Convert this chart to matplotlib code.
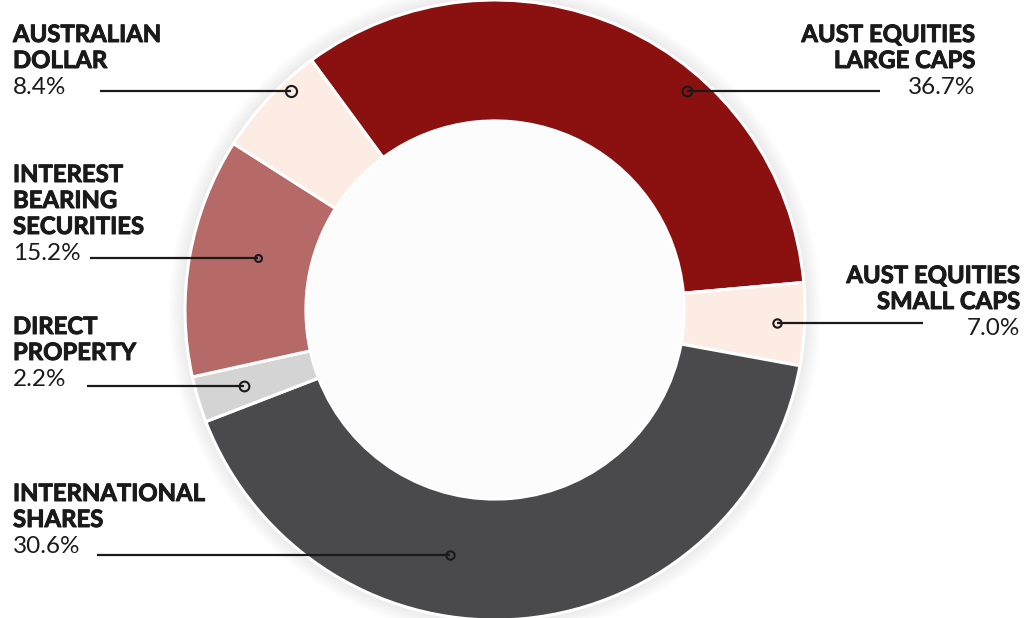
import matplotlib.pyplot as plt
import matplotlib.patheffects as pe
from matplotlib.patches import Circle

W, H = 1036, 618

# asset classes, clockwise from the top-left boundary
names = [['AUST EQUITIES', 'LARGE CAPS'],
         ['AUST EQUITIES', 'SMALL CAPS'],
         ['INTERNATIONAL', 'SHARES'],
         ['DIRECT', 'PROPERTY'],
         ['INTEREST', 'BEARING', 'SECURITIES'],
         ['AUSTRALIAN', 'DOLLAR']]
label_pct = [36.7, 7.0, 30.6, 2.2, 15.2, 8.4]
# arc sizes as drawn in the picture (they do not follow the printed numbers)
wedge_share = [33.7, 4.3, 41.3, 2.4, 12.5, 5.9]
colors = ['#8b1110', '#fdece3', '#4a4a4c', '#d4d4d4', '#b56a68', '#fdece3']

# layout, in image pixels (y down)
center = (495, 310)
radius = 310
hole = 0.61
start_angle = 126.3
text_x = [975, 1020, 13, 13, 13, 13]
text_align = ['right', 'right', 'left', 'left', 'left', 'left']
first_base = [42, 283, 501, 334, 182, 42]
leader_y = [91, 323, 555, 386, 258, 91]
leader_x = [(687, 880), (777, 923), (450, 97), (244, 87), (258, 90), (291, 100)]
marker_size = [7, 6, 6, 7, 5, 8]


def fy(y):
    return H - y


fig = plt.figure(figsize=(W / 100, H / 100), dpi=100)
fig.patch.set_facecolor('white')
ax = fig.add_axes([0, 0, 1, 1])

cx, cy = center[0], fy(center[1])

# soft halo round the ring
for k in range(10):
    ax.add_patch(Circle((cx, cy), radius + 2 + k * 1.6, color='black',
                        alpha=0.006, lw=0, zorder=0))

ax.pie(wedge_share, colors=colors, startangle=start_angle, counterclock=False,
       center=(cx, cy), radius=radius, frame=True,
       wedgeprops=dict(width=radius * (1 - hole), edgecolor='white', linewidth=2.2))
ax.add_patch(Circle((cx, cy), radius * hole - 1, color='#fcfcfc', lw=0, zorder=3))
ax.set_xlim(0, W)
ax.set_ylim(0, H)
ax.set_aspect('equal')
ax.axis('off')

ink = '#1a1a1a'
step = 26
thick = [pe.withStroke(linewidth=0.7, foreground=ink)]
for i in range(len(names)):
    base = first_base[i]
    for j, line in enumerate(names[i]):
        ax.text(text_x[i], fy(base + j * step), line, ha=text_align[i], va='baseline',
                fontsize=17.2, fontweight='bold', family='Lato', color=ink, zorder=5,
                path_effects=thick)
    ax.text(text_x[i], fy(base + len(names[i]) * step), f'{label_pct[i]:.1f}%',
            ha=text_align[i], va='baseline', fontsize=17.5, family='Lato',
            color=ink, zorder=5)
    x0, x1 = leader_x[i]
    ax.plot([x0, x1], [fy(leader_y[i])] * 2, color=ink, lw=1.6,
            solid_capstyle='butt', zorder=5)
    ax.plot([x0], [fy(leader_y[i])], 'o', ms=marker_size[i], mfc='none',
            mec=ink, mew=1.5, zorder=6)

fig.savefig('out.png', dpi=100, facecolor='white')
